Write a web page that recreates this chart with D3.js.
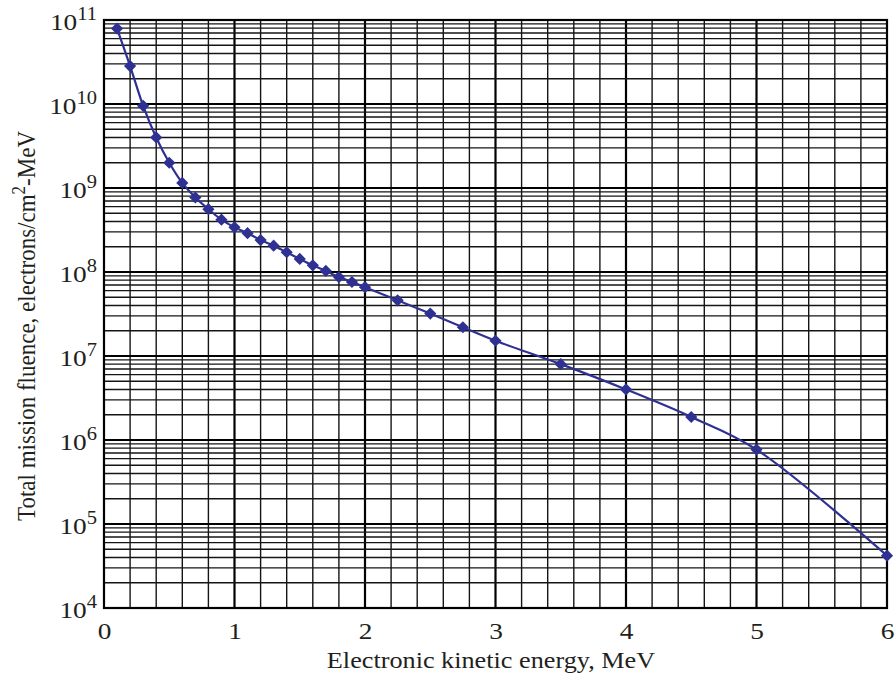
<!DOCTYPE html>
<html>
<head>
<meta charset="utf-8">
<script src="https://cdn.jsdelivr.net/npm/d3@7"></script>
<style>
  html, body { margin: 0; padding: 0; background: #fff; }
  svg { display: block; }
  text { font-family: "Liberation Serif", "Times New Roman", serif; fill: #231f20; }
</style>
</head>
<body>
<svg id="chart" width="895" height="680"></svg>
<script>
// Electron kinetic energy (MeV) and total mission fluence (electrons/cm^2-MeV)
const energy = [0.1, 0.2, 0.3, 0.4, 0.5, 0.6, 0.7, 0.8, 0.9, 1.0,
                1.1, 1.2, 1.3, 1.4, 1.5, 1.6, 1.7, 1.8, 1.9, 2.0,
                2.25, 2.5, 2.75, 3.0, 3.5, 4.0, 4.5, 5.0, 6.0];
const fluence = [7.9e10, 2.83e10, 9.5e9, 4.0e9, 2.0e9, 1.15e9, 7.7e8, 5.6e8, 4.2e8, 3.4e8,
                 2.9e8, 2.4e8, 2.06e8, 1.72e8, 1.43e8, 1.2e8, 1.03e8, 8.7e7, 7.6e7, 6.6e7,
                 4.6e7, 3.2e7, 2.2e7, 1.52e7, 8.0e6, 4.0e6, 1.88e6, 7.7e5, 4.2e4];

const xTicks = [0, 1, 2, 3, 4, 5, 6];
const yDecadeExponents = [4, 5, 6, 7, 8, 9, 10, 11];

const xTitle = "Electronic kinetic energy, MeV";
const yTitleParts = ["Total mission fluence, electrons/cm", "2", "-MeV"];

const W = 895, H = 680;
const margin = { top: 20, right: 8, bottom: 72, left: 104 };
const innerW = W - margin.left - margin.right;
const innerH = H - margin.top - margin.bottom;
const textStretch = 1.14;   // slightly wide lettering
const fontMain = 24, fontSup = 18, fontTitle = 23;

const svg = d3.select("#chart");
const g = svg.append("g").attr("transform", `translate(${margin.left},${margin.top})`);

const x = d3.scaleLinear().domain([0, 6]).range([0, innerW]);
const y = d3.scaleLog().domain([1e4, 1e11]).range([innerH, 0]);

// Vertical grid: every 0.2 MeV, heavier at whole MeV
const xGrid = d3.range(1, 30).map(i => i / 5);
const isWhole = d => Math.abs(d - Math.round(d)) < 1e-9;
g.append("g").selectAll("line").data(xGrid).join("line")
  .attr("x1", d => x(d)).attr("x2", d => x(d))
  .attr("y1", 0).attr("y2", innerH)
  .attr("stroke", d => isWhole(d) ? "#000" : "#151515")
  .attr("stroke-width", d => isWhole(d) ? 2.2 : 1.4);

// Horizontal grid: 1..9 within every decade, heavier at powers of ten
const yGrid = [];
for (let e = 4; e < 11; e++) for (let m = 1; m <= 9; m++) yGrid.push({ v: m * Math.pow(10, e), major: m === 1 });
g.append("g").selectAll("line").data(yGrid.filter(d => d.v > 1e4)).join("line")
  .attr("x1", 0).attr("x2", innerW)
  .attr("y1", d => y(d.v)).attr("y2", d => y(d.v))
  .attr("stroke", d => d.major ? "#000" : "#151515")
  .attr("stroke-width", d => d.major ? 2.2 : 1.4);

// Plot frame
g.append("rect").attr("x", 0).attr("y", 0).attr("width", innerW).attr("height", innerH)
  .attr("fill", "none").attr("stroke", "#000").attr("stroke-width", 2.2);

// X axis labels
const xAxis = g.append("g").attr("transform", `translate(0,${innerH})`)
  .call(d3.axisBottom(x).tickValues(xTicks).tickSize(0).tickPadding(0).tickFormat(d3.format("d")));
xAxis.select(".domain").remove();
xAxis.selectAll("text")
  .attr("font-size", fontMain).attr("fill", "#231f20")
  .attr("font-family", "Liberation Serif, serif")
  .attr("y", 0).attr("dy", 0)
  .attr("transform", `translate(0,31) scale(${textStretch},1)`);

// Y axis labels: 10 with superscript exponent
const yAxis = g.append("g")
  .call(d3.axisLeft(y).tickValues(yDecadeExponents.map(e => Math.pow(10, e))).tickSize(0).tickFormat(() => ""));
yAxis.select(".domain").remove();
yAxis.selectAll(".tick text").each(function(d) {
  const t = d3.select(this)
    .attr("font-family", "Liberation Serif, serif").attr("fill", "#231f20")
    .attr("x", 0).attr("dy", 0).attr("text-anchor", "end")
    .attr("transform", `translate(-7,9) scale(${textStretch},1)`);
  t.append("tspan").attr("font-size", fontMain).text("10");
  t.append("tspan").attr("font-size", fontSup).attr("dy", -10).text(Math.round(Math.log10(d)));
});

// Axis titles
svg.append("text")
  .attr("transform", `translate(491,668) scale(${textStretch},1)`)
  .attr("text-anchor", "middle").attr("font-size", fontTitle)
  .text(xTitle);

const yt = svg.append("text")
  .attr("transform", `translate(35,326) scale(${textStretch},1) rotate(-90)`)
  .attr("text-anchor", "middle").attr("font-size", fontTitle);
yt.append("tspan").text(yTitleParts[0]);
yt.append("tspan").attr("font-size", 17).attr("dy", -9).text(yTitleParts[1]);
yt.append("tspan").attr("dy", 9).text(yTitleParts[2]);

// Fluence curve and diamond markers
const data = energy.map((e, i) => ({ e, f: fluence[i] }));
const color = "#2e3192";
g.append("path").datum(data)
  .attr("fill", "none").attr("stroke", color).attr("stroke-width", 2.2)
  .attr("d", d3.line().x(d => x(d.e)).y(d => y(d.f)).curve(d3.curveCatmullRom.alpha(0.5)));

g.append("g").selectAll("path").data(data).join("path")
  .attr("transform", d => `translate(${x(d.e)},${y(d.f)}) rotate(45)`)
  .attr("d", d3.symbol(d3.symbolSquare, 74))
  .attr("fill", color);
</script>
</body>
</html>
